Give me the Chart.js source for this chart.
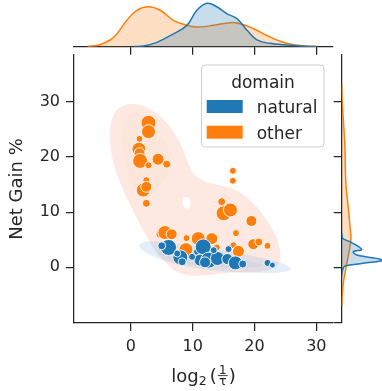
<!DOCTYPE html>
<html lang="en">
<head>
<meta charset="UTF-8">
<title>Net Gain % vs log2(1/tau)</title>
<script src="https://cdn.jsdelivr.net/npm/chart.js"></script>
<style>
  body { margin: 0; padding: 0; background: #fff; overflow: hidden; }
  .wrap { position: relative; width: 382px; height: 391px; overflow: hidden; }
  canvas { position: absolute; }
  #mainChart { left: 0; top: 0; }
  #topChart { left: 0; top: 0; }
  #rightChart { left: 330px; top: 0; }
</style>
</head>
<body>
<div class="wrap">
  <canvas id="mainChart" width="382" height="391"></canvas>
  <canvas id="topChart" width="382" height="60"></canvas>
  <canvas id="rightChart" width="58" height="391"></canvas>
</div>
<script>
// ---- data ----
const domains = ['natural', 'other'];

const naturalX    = [6.1, 5.0, 8.0, 8.3, 7.5, 10.7, 11.7, 11.2, 12.6, 12.0, 14.0, 13.4, 15.8, 15.6, 16.9, 18.1, 22.1, 22.9, 9.9];
const naturalY    = [3.6, 3.9, 1.8, 1.0, 2.5, 2.8, 3.7, 1.3, 1.3, 0.9, 1.6, 3.1, 3.3, 1.5, 0.8, 0.6, 0.8, 0.4, 1.9];
const naturalSize = [8, 4, 7.5, 4, 3.5, 3.5, 8, 6, 8, 5.5, 7, 3.5, 3.5, 5.5, 7, 4, 3.5, 3, 3.5];

const otherX    = [2.85, 2.85, 1.4, 1.3, 1.4, 1.5, 2.85, 4.4, 5.8, 2.5, 2.0, 2.5, 2.5, 16.5, 16.5, 14.7, 15.0, 16.1, 19.5, 17.0,
                   19.8, 20.7, 22.1, 16.6, 17.4, 4.7, 5.5, 6.6, 9.0, 10.9, 13.1, 8.9, 13.9];
const otherY    = [26.2, 24.6, 23.3, 21.4, 20.7, 19.3, 18.5, 19.6, 18.7, 15.8, 14.0, 14.6, 11.6, 17.5, 15.7, 11.9, 9.8, 10.4, 8.4, 6.2,
                   4.2, 4.6, 3.9, 4.0, 2.9, 6.0, 6.3, 6.0, 5.3, 5.2, 5.2, 3.2, 3.6];
const otherSize = [7.5, 7, 3.5, 7, 5.5, 7.5, 3.5, 6, 4, 3.5, 7, 5.5, 4, 3.5, 3.5, 4, 7.5, 7, 5.5, 3.5,
                   5.5, 4, 3.5, 3.5, 6, 4, 7, 5.5, 3.5, 7, 6, 7, 3.5];

// kde contours [x, y]
const otherOuter = [[0.5, 29.8], [3.1, 28.9], [5.8, 26.4], [8.0, 22.8], [9.2, 19.0], [10.2, 16.6], [12.3, 15.3], [14.4, 14.9],
                    [17.2, 14.0], [19.3, 12.3], [21.2, 9.8], [23.1, 6.8], [24.1, 3.7], [24.3, 1.3], [23.3, -0.2], [20.9, -0.9],
                    [16.1, -0.9], [12.8, -1.4], [9.6, -1.6], [7.2, -0.9], [5.8, 0.7], [3.9, 2.8], [1.5, 7.7], [-0.9, 13.1],
                    [-2.9, 18.5], [-3.6, 24.0], [-3.0, 27.6], [-1.7, 29.3]];
const otherInner = [[-1.0, 27.5], [1.5, 28.0], [4.0, 26.0], [6.0, 22.0], [6.5, 18.0], [5.0, 15.0], [3.0, 12.5], [1.0, 13.0],
                    [-0.5, 17.0], [-1.5, 22.0]];
const otherHole  = [[8.4, 12.4], [8.9, 12.9], [9.5, 12.6], [9.7, 11.2], [9.2, 10.5], [8.6, 10.8], [8.3, 11.6]];
const naturalOuter = [[1.2, 4.4], [3.7, 4.9], [9.1, 4.0], [14.4, 3.1], [19.8, 2.1], [24.0, 1.0], [26.3, -0.2], [25.0, -0.9],
                      [22.5, -1.1], [14.4, -0.8], [8.0, 0.3], [3.7, 1.8], [1.5, 3.3]];
const naturalInner = [[4.0, 3.6], [9.0, 2.9], [15.0, 2.0], [20.0, 1.0], [22.0, 0.3], [18.0, -0.3], [12.0, 0.2], [7.0, 1.0], [4.0, 2.4]];

// marginal densities (scaled)
const topOtherX       = [-7, -5.0, -2.8, -0.65, 0.97, 2.85, 4.74, 6.89, 8.51, 10.68, 13.37, 16.07, 17.69, 19.84, 22.0, 24.16, 26.3, 28.5, 30];
const topOtherDens    = [0.005, 0.043, 0.20, 0.565, 0.78, 0.855, 0.78, 0.565, 0.48, 0.42, 0.457, 0.515, 0.49, 0.385, 0.24, 0.115, 0.043, 0.015, 0.004];
const topNaturalX     = [0.5, 2.04, 4.2, 6.89, 9.06, 10.68, 12.3, 13.9, 15.5, 17.15, 18.8, 20.4, 22.5, 25.2, 27.4, 30];
const topNaturalDens  = [0.003, 0.015, 0.093, 0.276, 0.457, 0.78, 0.93, 0.855, 0.71, 0.60, 0.35, 0.146, 0.072, 0.037, 0.015, 0.003];

const rightOtherY     = [33, 30.3, 25.5, 21.8, 15.2, 11.0, 7.4, 5.5, 3.1, 0.7, -1.1, -2.9, -5.3, -7];
const rightOtherDens  = [0.002, 0.01, 0.045, 0.07, 0.09, 0.14, 0.18, 0.2, 0.165, 0.11, 0.07, 0.035, 0.01, 0.002];
const rightNaturalY   = [6.2, 5.25, 4.64, 3.26, 2.83, 2.23, 1.32, 0.72, 0.24, -0.49, -1.5];
const rightNaturalDens= [0.002, 0.02, 0.18, 0.43, 0.25, 0.33, 0.87, 0.47, 0.07, 0.02, 0.002];

const xTicks = [0, 10, 20, 30];
const yTicks = [0, 10, 20, 30];
const rightTicks = [-10, 0, 10, 20, 30];

const xRange = [-9.2, 32.7];
const yRange = [-10.1, 38.5];

const BLUE = '#1f77b4';
const ORANGE = '#ff7f0e';
const INK = '#262626';
const FONT = '"DejaVu Sans", sans-serif';

// ---- helpers ----
function pack(xs, ys, rs) {
  return xs.map((x, i) => ({ x: x, y: ys[i], r: rs[i] }));
}
function pairs(xs, ys) {
  return xs.map((x, i) => ({ x: x, y: ys[i] }));
}
function smoothPath(ctx, pts) {
  const n = pts.length;
  const mid = (a, b) => [(a[0] + b[0]) / 2, (a[1] + b[1]) / 2];
  let m = mid(pts[n - 1], pts[0]);
  ctx.moveTo(m[0], m[1]);
  for (let i = 0; i < n; i++) {
    const q = mid(pts[i], pts[(i + 1) % n]);
    ctx.quadraticCurveTo(pts[i][0], pts[i][1], q[0], q[1]);
  }
  ctx.closePath();
}
function axisStyle(extra) {
  return Object.assign({
    grid: { display: true, drawOnChartArea: false, drawTicks: true, tickLength: 8, color: INK, lineWidth: 1.25 },
    border: { display: true, color: INK, width: 1.25 },
  }, extra);
}

// contours behind the points
const contourPlugin = {
  id: 'contours',
  beforeDatasetsDraw(chart) {
    const { ctx, chartArea, scales } = chart;
    const px = (p) => [scales.x.getPixelForValue(p[0]), scales.y.getPixelForValue(p[1])];
    ctx.save();
    ctx.beginPath();
    ctx.rect(chartArea.left, chartArea.top, chartArea.right - chartArea.left, chartArea.bottom - chartArea.top);
    ctx.clip();

    ctx.beginPath();
    smoothPath(ctx, otherOuter.map(px));
    smoothPath(ctx, otherHole.map(px));
    ctx.fillStyle = 'rgba(240,120,70,0.16)';
    ctx.fill('evenodd');

    ctx.beginPath();
    smoothPath(ctx, otherInner.map(px));
    ctx.fillStyle = 'rgba(240,120,70,0.04)';
    ctx.fill();

    ctx.beginPath();
    smoothPath(ctx, naturalOuter.map(px));
    ctx.fillStyle = 'rgba(100,160,220,0.18)';
    ctx.fill();

    ctx.beginPath();
    smoothPath(ctx, naturalInner.map(px));
    ctx.fillStyle = 'rgba(100,160,220,0.07)';
    ctx.fill();
    ctx.restore();
  }
};

// legend and the math x label
const annotatePlugin = {
  id: 'annotate',
  afterDraw(chart) {
    const { ctx, chartArea } = chart;
    ctx.save();
    // legend
    ctx.beginPath();
    ctx.roundRect(201.5, 65, 122.5, 82, 4);
    ctx.fillStyle = 'rgba(255,255,255,0.8)';
    ctx.fill();
    ctx.strokeStyle = '#cccccc';
    ctx.lineWidth = 1;
    ctx.stroke();
    ctx.fillStyle = INK;
    ctx.font = '17px ' + FONT;
    ctx.textAlign = 'center';
    ctx.textBaseline = 'alphabetic';
    ctx.fillText('domain', 263, 88.3);
    const colors = [BLUE, ORANGE];
    domains.forEach((d, i) => {
      const y = 100 + i * 25.7;
      ctx.fillStyle = colors[i];
      ctx.fillRect(206.7, y, 36, 13);
      ctx.fillStyle = INK;
      ctx.textAlign = 'left';
      ctx.fillText(d, 256.7, y + 13.3);
    });

    // x label: log2(1/tau)
    const big = '18px ' + FONT, small = '12.5px ' + FONT;
    ctx.font = big;
    const wLog = ctx.measureText('log').width;
    const wPL = ctx.measureText('(').width;
    const wPR = ctx.measureText(')').width;
    ctx.font = small;
    const w2 = ctx.measureText('2').width;
    const wFrac = Math.max(ctx.measureText('1').width, ctx.measureText('τ').width) + 4;
    const gap = 3;
    const total = wLog + w2 + gap + wPL + wFrac + wPR;
    let x = (chartArea.left + chartArea.right) / 2 - total / 2;
    const by = 381.5;
    ctx.fillStyle = INK;
    ctx.textAlign = 'left';
    ctx.font = big;
    ctx.fillText('log', x, by); x += wLog;
    ctx.font = small;
    ctx.fillText('2', x, by + 3.5); x += w2 + gap;
    ctx.font = big;
    ctx.fillText('(', x, by); x += wPL;
    ctx.font = small;
    ctx.textAlign = 'center';
    ctx.fillText('1', x + wFrac / 2, by - 7.5);
    ctx.fillText('τ', x + wFrac / 2, by + 3);
    ctx.fillRect(x + 1, by - 6.3, wFrac - 2, 0.9);
    x += wFrac;
    ctx.textAlign = 'left';
    ctx.font = big;
    ctx.fillText(')', x, by);
    ctx.restore();
  }
};

// ---- main scatter ----
new Chart(document.getElementById('mainChart'), {
  type: 'bubble',
  data: {
    datasets: [
      { label: 'natural', data: pack(naturalX, naturalY, naturalSize), backgroundColor: BLUE, borderColor: '#ffffff', borderWidth: 0.9 },
      { label: 'other', data: pack(otherX, otherY, otherSize), backgroundColor: ORANGE, borderColor: '#ffffff', borderWidth: 0.9 }
    ]
  },
  options: {
    responsive: false,
    animation: false,
    devicePixelRatio: 1,
    layout: { padding: { left: 0, top: 55, right: 49, bottom: 0 } },
    plugins: { legend: { display: false }, tooltip: { enabled: false } },
    scales: {
      x: axisStyle({
        type: 'linear', min: xRange[0], max: xRange[1],
        afterBuildTicks: (s) => { s.ticks = xTicks.map(v => ({ value: v })); },
        afterFit: (s) => { s.height = 68; },
        ticks: { color: INK, font: { family: FONT, size: 16 }, padding: 6 }
      }),
      y: axisStyle({
        type: 'linear', min: yRange[0], max: yRange[1],
        afterBuildTicks: (s) => { s.ticks = yTicks.map(v => ({ value: v })); },
        afterFit: (s) => { s.width = 74; },
        ticks: { color: INK, font: { family: FONT, size: 16 }, padding: 6 },
        title: { display: true, text: 'Net Gain %', color: INK, font: { family: FONT, size: 18 }, padding: { top: 7, bottom: 0 } }
      })
    }
  },
  plugins: [contourPlugin, annotatePlugin]
});

// ---- top marginal ----
new Chart(document.getElementById('topChart'), {
  type: 'line',
  data: {
    datasets: [
      { data: pairs(topNaturalX, topNaturalDens), borderColor: BLUE, backgroundColor: 'rgba(31,119,180,0.25)', fill: 'origin' },
      { data: pairs(topOtherX, topOtherDens), borderColor: ORANGE, backgroundColor: 'rgba(255,127,14,0.25)', fill: 'origin' }
    ]
  },
  options: {
    responsive: false,
    animation: false,
    devicePixelRatio: 1,
    layout: { padding: { left: 74, top: 0, right: 49, bottom: 0 } },
    elements: { point: { radius: 0 }, line: { borderWidth: 1.5, tension: 0.4 } },
    plugins: { legend: { display: false }, tooltip: { enabled: false } },
    scales: {
      x: axisStyle({
        type: 'linear', min: xRange[0], max: xRange[1],
        afterBuildTicks: (s) => { s.ticks = xTicks.map(v => ({ value: v })); },
        afterFit: (s) => { s.height = 13.3; },
        ticks: { display: false }
      }),
      y: { type: 'linear', display: false, min: 0, max: 1 }
    }
  }
});

// ---- right marginal ----
new Chart(document.getElementById('rightChart'), {
  type: 'line',
  data: {
    datasets: [
      { data: pairs(rightNaturalDens, rightNaturalY), borderColor: BLUE, backgroundColor: 'rgba(31,119,180,0.25)', fill: 'origin' },
      { data: pairs(rightOtherDens, rightOtherY), borderColor: ORANGE, backgroundColor: 'rgba(255,127,14,0.25)', fill: 'origin' }
    ]
  },
  options: {
    indexAxis: 'y',
    responsive: false,
    animation: false,
    devicePixelRatio: 1,
    layout: { padding: { left: 0, top: 55, right: 0, bottom: 68 } },
    elements: { point: { radius: 0 }, line: { borderWidth: 1.5, tension: 0.4 } },
    plugins: { legend: { display: false }, tooltip: { enabled: false } },
    scales: {
      y: axisStyle({
        type: 'linear', position: 'left', min: yRange[0], max: yRange[1],
        afterBuildTicks: (s) => { s.ticks = rightTicks.map(v => ({ value: v })); },
        afterFit: (s) => { s.width = 11.7; },
        ticks: { display: false }
      }),
      x: { type: 'linear', display: false, min: 0, max: 1 }
    }
  }
});
</script>
</body>
</html>
